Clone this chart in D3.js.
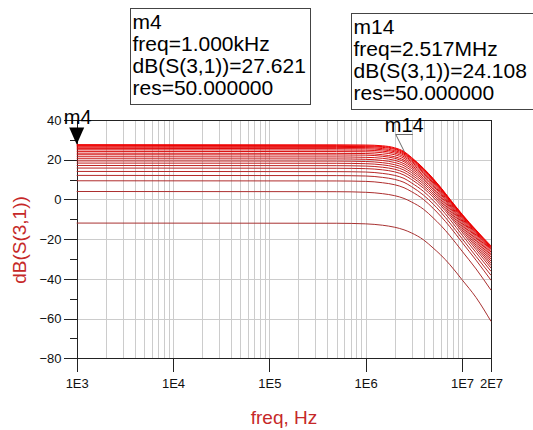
<!DOCTYPE html>
<html>
<head>
<meta charset="utf-8">
<script src="https://cdn.jsdelivr.net/npm/d3@7"></script>
<style>
  body { margin: 0; background: #fff; }
  svg { display: block; font-family: Arial, "Liberation Sans", sans-serif; }
  .grid line { stroke: #cccccc; stroke-width: 1; shape-rendering: crispEdges; }
  .axis path, .axis line { stroke: #222; shape-rendering: crispEdges; }
  .axis text { fill: #111; font-size: 13px; }
</style>
</head>
<body>
<div id="canvas"></div>
<script>
var freqs = [1e3, 5e5, 1e6, 1.5e6, 2e6, 2.5e6, 3e6, 4e6, 5e6, 6e6, 7.5e6, 1e7, 1.4e7, 2e7];

// dB(S(3,1)) for each res value of the sweep, lowest trace first
var trace0  = [-11.9, -12.0, -12.3, -13.0, -14.0, -15.3, -16.9, -20.4, -24.4, -27.9, -32.9, -40.4, -49.4, -61.4];
var trace1  = [4.0, 3.9, 3.6, 2.9, 1.9, 0.5, -1.3, -5.0, -9.2, -13.0, -18.3, -26.0, -35.0, -45.7];
var trace2  = [9.4, 9.3, 9.1, 8.4, 7.4, 5.9, 3.9, -0.1, -4.4, -8.4, -13.8, -21.6, -30.6, -40.7];
var trace3  = [12.1, 12.0, 11.8, 11.1, 10.1, 8.6, 6.4, 2.1, -2.2, -6.3, -11.9, -19.7, -28.7, -38.2];
var trace4  = [14.1, 14.0, 13.8, 13.1, 12.1, 10.6, 8.3, 4.0, -0.4, -4.5, -10.1, -17.9, -26.8, -36.2];
var trace5  = [15.8, 15.7, 15.5, 14.9, 13.9, 12.3, 10.0, 5.6, 1.2, -3.0, -8.6, -16.4, -25.3, -34.6];
var trace6  = [17.1, 17.0, 16.8, 16.2, 15.2, 13.6, 11.3, 6.7, 2.3, -1.9, -7.6, -15.3, -24.1, -33.3];
var trace7  = [18.3, 18.2, 18.0, 17.4, 16.4, 14.8, 12.4, 7.8, 3.3, -0.9, -6.6, -14.3, -23.1, -32.2];
var trace8  = [19.4, 19.3, 19.1, 18.5, 17.5, 15.9, 13.5, 8.8, 4.3, 0.0, -5.7, -13.4, -22.1, -31.1];
var trace9  = [20.5, 20.4, 20.2, 19.6, 18.6, 17.0, 14.5, 9.8, 5.2, 0.9, -4.8, -12.5, -21.1, -30.1];
var trace10 = [21.5, 21.4, 21.2, 20.7, 19.7, 18.0, 15.5, 10.6, 6.0, 1.7, -4.0, -11.7, -20.3, -29.1];
var trace11 = [22.5, 22.4, 22.3, 21.7, 20.7, 19.0, 16.4, 11.5, 6.9, 2.6, -3.3, -10.9, -19.4, -28.2];
var trace12 = [23.3, 23.2, 23.1, 22.5, 21.5, 19.8, 17.2, 12.2, 7.5, 3.2, -2.7, -10.3, -18.7, -27.4];
var trace13 = [24.2, 24.1, 24.0, 23.5, 22.5, 20.7, 18.0, 13.0, 8.2, 3.9, -2.0, -9.6, -18.0, -26.5];
var trace14 = [25.0, 24.9, 24.8, 24.3, 23.3, 21.5, 18.8, 13.6, 8.8, 4.5, -1.4, -9.0, -17.3, -25.8];
var trace15 = [25.7, 25.6, 25.5, 25.0, 24.0, 22.2, 19.4, 14.2, 9.4, 5.0, -0.9, -8.5, -16.8, -25.1];
var trace16 = [26.3, 26.2, 26.1, 25.6, 24.6, 22.8, 20.0, 14.7, 9.8, 5.4, -0.5, -8.1, -16.3, -24.6];
var trace17 = [26.8, 26.7, 26.6, 26.2, 25.2, 23.3, 20.4, 15.1, 10.1, 5.7, -0.3, -7.8, -15.9, -24.1];
var trace18 = [27.2, 27.1, 27.0, 26.6, 25.6, 23.7, 20.8, 15.3, 10.4, 5.9, -0.1, -7.6, -15.7, -23.8];
var trace19 = [27.6, 27.5, 27.4, 27.0, 26.0, 24.1, 21.1, 15.6, 10.6, 6.1, 0.1, -7.4, -15.4, -23.4];

var traces = [trace0, trace1, trace2, trace3, trace4, trace5, trace6, trace7, trace8, trace9,
  trace10, trace11, trace12, trace13, trace14, trace15, trace16, trace17, trace18, trace19];

// axis ticks
var xTickVals = [1e3, 1e4, 1e5, 1e6, 1e7, 2e7];
var xTickLabels = ["1E3", "1E4", "1E5", "1E6", "1E7", "2E7"];
var yTickVals = [-80, -60, -40, -20, 0, 20, 40];
var yMinorVals = [-70, -50, -30, -10, 10, 30];
var yGridVals = [-60, -40, -20, 0, 20];

// markers
var markerNames = ["m4", "m14"];
var markerFreq = [1e3, 2.517e6];
var markerVal = [27.621, 24.108];
var markerText = [
  ["m4", "freq=1.000kHz", "dB(S(3,1))=27.621", "res=50.000000"],
  ["m14", "freq=2.517MHz", "dB(S(3,1))=24.108", "res=50.000000"]
];

var width = 533, height = 430;
var svg = d3.select("#canvas").append("svg")
  .attr("width", width)
  .attr("height", height);

var x = d3.scaleLog().domain([1e3, 2e7]).range([76.7, 491]);
var y = d3.scaleLinear().domain([-80, 40]).range([358.3, 120]);

// grid
var vgrid = x.ticks().filter(function(d) { return d > 1e3 && d < 2e7; });
svg.append("g").attr("class", "grid")
  .selectAll("line").data(vgrid).enter().append("line")
    .attr("x1", function(d) { return Math.round(x(d)) + 0.5; })
    .attr("x2", function(d) { return Math.round(x(d)) + 0.5; })
    .attr("y1", y(40)).attr("y2", y(-80));
svg.append("g").attr("class", "grid")
  .selectAll("line").data(yGridVals).enter().append("line")
    .attr("x1", x(1e3)).attr("x2", x(2e7))
    .attr("y1", function(d) { return Math.round(y(d)) + 0.5; })
    .attr("y2", function(d) { return Math.round(y(d)) + 0.5; });

// frame (top + right)
svg.append("path")
  .attr("d", "M" + x(1e3) + "," + (Math.round(y(40)) + 0.5) + "H" + (Math.round(x(2e7)) + 0.5) + "V" + y(-80))
  .attr("fill", "none").attr("stroke", "#222").attr("shape-rendering", "crispEdges");

// axes
var xAxis = d3.axisBottom(x)
  .tickValues(xTickVals)
  .tickFormat(function(d, i) { return xTickLabels[i]; })
  .tickSizeInner(13.7).tickSizeOuter(0).tickPadding(6.8);
svg.append("g").attr("class", "axis")
  .attr("transform", "translate(0," + y(-80) + ")")
  .call(xAxis);

var yAxis = d3.axisLeft(y)
  .tickValues(yTickVals)
  .tickFormat(d3.format("d"))
  .tickSizeInner(12.7).tickSizeOuter(0).tickPadding(2.5);
svg.append("g").attr("class", "axis")
  .attr("transform", "translate(" + x(1e3) + ",0)")
  .call(yAxis);

svg.append("g").attr("class", "axis")
  .attr("transform", "translate(" + x(1e3) + ",0)")
  .call(d3.axisLeft(y).tickValues(yMinorVals).tickFormat("").tickSizeInner(6.7).tickSizeOuter(0))
  .select(".domain").remove();

// traces
var line = d3.line()
  .x(function(d, i) { return x(freqs[i]); })
  .y(function(d) { return y(d); })
  .curve(d3.curveMonotoneX);
var col = d3.interpolateRgb("#a83232", "#f00000");

svg.append("g").selectAll("path").data(traces).enter().append("path")
  .attr("d", line)
  .attr("fill", "none")
  .attr("stroke", function(d, i) { return col(i / (traces.length - 1)); })
  .attr("stroke-width", 1);

// axis titles
svg.append("text")
  .attr("transform", "translate(26,240) rotate(-90)")
  .attr("text-anchor", "middle")
  .attr("fill", "#c62828")
  .style("font-size", "19px")
  .text("dB(S(3,1))");
svg.append("text")
  .attr("x", 284).attr("y", 424)
  .attr("text-anchor", "middle")
  .attr("fill", "#c62828")
  .style("font-size", "19px")
  .text("freq, Hz");

// m4 marker: triangle + label
var m4x = x(markerFreq[0]), m4y = y(markerVal[0]);
svg.append("path")
  .attr("d", "M" + m4x + "," + m4y + "L" + (m4x - 7.5) + "," + (m4y - 17) + "L" + (m4x + 7.5) + "," + (m4y - 17) + "Z")
  .attr("fill", "#000");
svg.append("text")
  .attr("x", m4x + 1).attr("y", 124)
  .attr("text-anchor", "middle")
  .style("font-size", "20px")
  .text(markerNames[0]);

// m14 marker: label, underline, leader
var m14x = x(markerFreq[1]), m14y = y(markerVal[1]);
svg.append("text")
  .attr("x", m14x).attr("y", 132)
  .attr("text-anchor", "middle")
  .style("font-size", "20px")
  .text(markerNames[1]);
svg.append("path")
  .attr("d", "M" + (m14x - 8.5) + ",134.5H" + (m14x + 8.5) + "M" + (m14x - 8.5) + ",134.5L" + m14x + "," + m14y)
  .attr("fill", "none").attr("stroke", "#444").attr("stroke-width", 0.8);

// readout boxes
var boxX = [130.5, 351.5], boxY = [8.5, 13.5];
markerText.forEach(function(lines, k) {
  var g = svg.append("g");
  g.append("rect")
    .attr("x", boxX[k]).attr("y", boxY[k])
    .attr("width", k == 0 ? 180 : 200).attr("height", 96)
    .attr("fill", "#fff").attr("stroke", "#444");
  g.selectAll("text").data(lines).enter().append("text")
    .attr("x", boxX[k] + 2)
    .attr("y", function(d, i) { return boxY[k] + 20 + i * 22; })
    .style("font-size", "21px")
    .text(function(d) { return d; });
});
</script>
</body>
</html>
